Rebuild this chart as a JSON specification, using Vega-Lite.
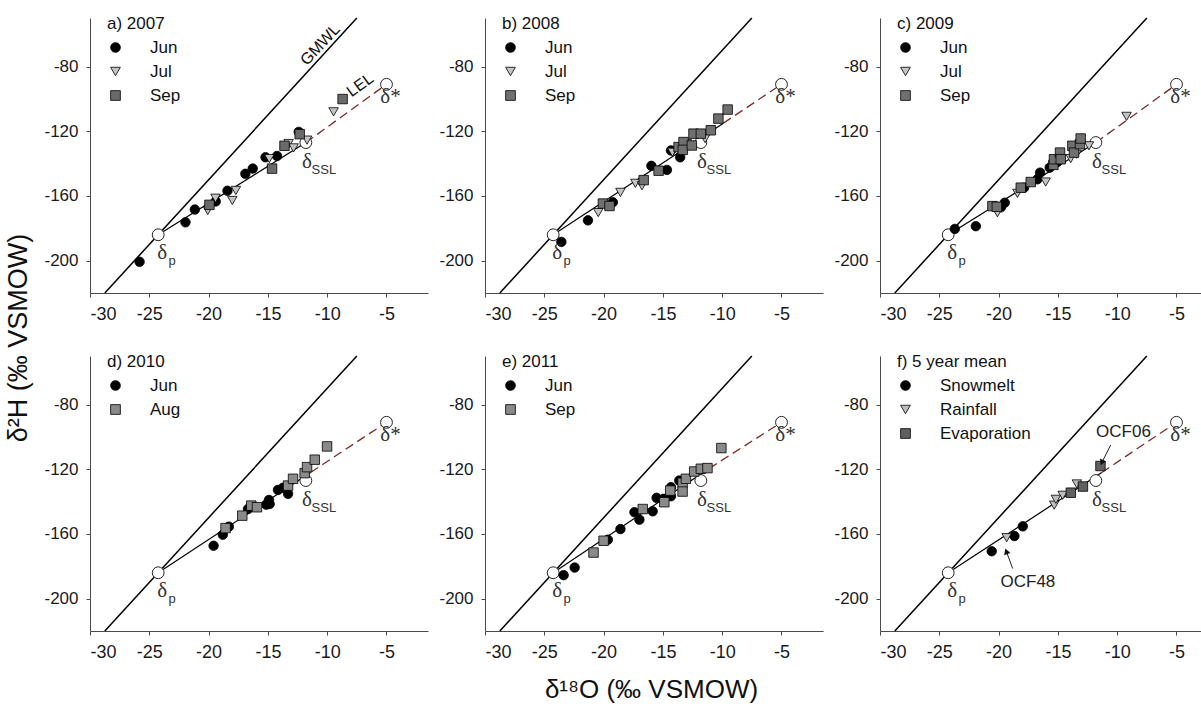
{
"$schema": "https://vega.github.io/schema/vega-lite/v6.json",
"padding": {"left": 4, "top": 15, "right": 0, "bottom": 5},
"background": "white",
"datasets": {
"gmwl": [{"x": -28.75, "y": -220}, {"x": -7.5, "y": -50}],
"ref": [{"name": "p", "x": -24.25, "y": -184}, {"name": "SSL", "x": -11.8, "y": -127}, {"name": "star", "x": -5, "y": -91}],
"lel": [
{"panel": "a", "seg": "solid", "x": -24.25, "y": -184}, {"panel": "a", "seg": "solid", "x": -11.8, "y": -127},
{"panel": "a", "seg": "dash", "x": -11.8, "y": -127}, {"panel": "a", "seg": "dash", "x": -5, "y": -91},
{"panel": "b", "seg": "solid", "x": -24.25, "y": -184}, {"panel": "b", "seg": "solid", "x": -9.9, "y": -115},
{"panel": "b", "seg": "dash", "x": -9.9, "y": -115}, {"panel": "b", "seg": "dash", "x": -5, "y": -91},
{"panel": "c", "seg": "solid", "x": -24.25, "y": -184}, {"panel": "c", "seg": "solid", "x": -11.8, "y": -127},
{"panel": "c", "seg": "dash", "x": -11.8, "y": -127}, {"panel": "c", "seg": "dash", "x": -5, "y": -91},
{"panel": "d", "seg": "solid", "x": -24.25, "y": -184}, {"panel": "d", "seg": "solid", "x": -11.4, "y": -122},
{"panel": "d", "seg": "dash", "x": -11.4, "y": -122}, {"panel": "d", "seg": "dash", "x": -5, "y": -91},
{"panel": "e", "seg": "solid", "x": -24.25, "y": -184}, {"panel": "e", "seg": "solid", "x": -11.1, "y": -119.5},
{"panel": "e", "seg": "dash", "x": -11.1, "y": -119.5}, {"panel": "e", "seg": "dash", "x": -5, "y": -91},
{"panel": "f", "seg": "solid", "x": -24.25, "y": -184}, {"panel": "f", "seg": "solid", "x": -11.3, "y": -122},
{"panel": "f", "seg": "dash", "x": -11.3, "y": -122}, {"panel": "f", "seg": "dash", "x": -5, "y": -91}
],
"notes": [
{"panel": "a", "t": "GMWL", "x": -10.58, "y": -66.5},
{"panel": "a", "t": "LEL", "x": -7.22, "y": -91.4},
{"panel": "f", "t": "OCF06", "x": -9.47, "y": -96.9},
{"panel": "f", "t": "OCF48", "x": -17.53, "y": -189.5}
],
"arrows": [
{"t": "OCF06", "x": -10.55, "y": -105, "x2": -11.26, "y2": -115.4},
{"t": "OCF48", "x": -18.81, "y": -181.4, "x2": -19.32, "y2": -171.3}
],
"pts": [
{"panel": "a", "group": "Jun", "x": -25.82, "y": -200.7},
{"panel": "a", "group": "Jun", "x": -21.95, "y": -176.3},
{"panel": "a", "group": "Jun", "x": -21.16, "y": -168.4},
{"panel": "a", "group": "Jun", "x": -19.4, "y": -163.4},
{"panel": "a", "group": "Jun", "x": -18.41, "y": -156.8},
{"panel": "a", "group": "Jun", "x": -16.9, "y": -146.3},
{"panel": "a", "group": "Jun", "x": -16.28, "y": -143.1},
{"panel": "a", "group": "Jun", "x": -15.2, "y": -136.1},
{"panel": "a", "group": "Jun", "x": -14.23, "y": -135.3},
{"panel": "a", "group": "Jun", "x": -12.4, "y": -120.4},
{"panel": "a", "group": "Jul", "x": -20.07, "y": -169},
{"panel": "a", "group": "Jul", "x": -19.42, "y": -161.4},
{"panel": "a", "group": "Jul", "x": -18.0, "y": -162.8},
{"panel": "a", "group": "Jul", "x": -17.7, "y": -156.6},
{"panel": "a", "group": "Jul", "x": -14.88, "y": -136.9},
{"panel": "a", "group": "Jul", "x": -13.25, "y": -127.6},
{"panel": "a", "group": "Jul", "x": -12.83, "y": -130.3},
{"panel": "a", "group": "Jul", "x": -11.7, "y": -125.5},
{"panel": "a", "group": "Jul", "x": -9.46, "y": -108},
{"panel": "a", "group": "Sep", "x": -19.93, "y": -165.5},
{"panel": "a", "group": "Sep", "x": -14.65, "y": -143.1},
{"panel": "a", "group": "Sep", "x": -13.6, "y": -129},
{"panel": "a", "group": "Sep", "x": -12.32, "y": -121.8},
{"panel": "a", "group": "Sep", "x": -8.7, "y": -100.1},
{"panel": "b", "group": "Jun", "x": -23.56, "y": -188.4},
{"panel": "b", "group": "Jun", "x": -21.32, "y": -175.1},
{"panel": "b", "group": "Jun", "x": -19.22, "y": -163.9},
{"panel": "b", "group": "Jun", "x": -15.97, "y": -141.4},
{"panel": "b", "group": "Jun", "x": -14.66, "y": -143.9},
{"panel": "b", "group": "Jun", "x": -14.32, "y": -131.9},
{"panel": "b", "group": "Jun", "x": -13.54, "y": -136.1},
{"panel": "b", "group": "Jul", "x": -20.45, "y": -170.3},
{"panel": "b", "group": "Jul", "x": -18.58, "y": -157.8},
{"panel": "b", "group": "Jul", "x": -17.32, "y": -152.2},
{"panel": "b", "group": "Jul", "x": -16.76, "y": -153.7},
{"panel": "b", "group": "Jul", "x": -14.2, "y": -133},
{"panel": "b", "group": "Jul", "x": -12.98, "y": -127.7},
{"panel": "b", "group": "Jul", "x": -11.44, "y": -124.6},
{"panel": "b", "group": "Sep", "x": -20.06, "y": -164.7},
{"panel": "b", "group": "Sep", "x": -19.5, "y": -166.2},
{"panel": "b", "group": "Sep", "x": -16.62, "y": -150.2},
{"panel": "b", "group": "Sep", "x": -15.36, "y": -144.4},
{"panel": "b", "group": "Sep", "x": -13.68, "y": -129.8},
{"panel": "b", "group": "Sep", "x": -13.26, "y": -126.7},
{"panel": "b", "group": "Sep", "x": -13.32, "y": -131.5},
{"panel": "b", "group": "Sep", "x": -12.56, "y": -128.8},
{"panel": "b", "group": "Sep", "x": -12.42, "y": -121.5},
{"panel": "b", "group": "Sep", "x": -11.8, "y": -121.5},
{"panel": "b", "group": "Sep", "x": -10.96, "y": -119.4},
{"panel": "b", "group": "Sep", "x": -10.32, "y": -112.2},
{"panel": "b", "group": "Sep", "x": -9.54, "y": -106.6},
{"panel": "c", "group": "Jun", "x": -23.69, "y": -180.4},
{"panel": "c", "group": "Jun", "x": -21.92, "y": -178.7},
{"panel": "c", "group": "Jun", "x": -19.48, "y": -164.2},
{"panel": "c", "group": "Jun", "x": -19.8, "y": -167},
{"panel": "c", "group": "Jun", "x": -17.85, "y": -154.9},
{"panel": "c", "group": "Jun", "x": -16.73, "y": -149.7},
{"panel": "c", "group": "Jun", "x": -16.5, "y": -145.6},
{"panel": "c", "group": "Jun", "x": -15.69, "y": -142.5},
{"panel": "c", "group": "Jun", "x": -15.04, "y": -139},
{"panel": "c", "group": "Jul", "x": -20.1, "y": -170.4},
{"panel": "c", "group": "Jul", "x": -18.41, "y": -158.4},
{"panel": "c", "group": "Jul", "x": -16.03, "y": -151.4},
{"panel": "c", "group": "Jul", "x": -13.92, "y": -136.9},
{"panel": "c", "group": "Jul", "x": -13.42, "y": -134.2},
{"panel": "c", "group": "Jul", "x": -12.38, "y": -129},
{"panel": "c", "group": "Jul", "x": -9.21, "y": -110.8},
{"panel": "c", "group": "Sep", "x": -20.52, "y": -166.3},
{"panel": "c", "group": "Sep", "x": -20.15, "y": -166.7},
{"panel": "c", "group": "Sep", "x": -18.13, "y": -154.9},
{"panel": "c", "group": "Sep", "x": -17.29, "y": -151.4},
{"panel": "c", "group": "Sep", "x": -15.38, "y": -140.8},
{"panel": "c", "group": "Sep", "x": -15.33, "y": -137.3},
{"panel": "c", "group": "Sep", "x": -14.82, "y": -133.2},
{"panel": "c", "group": "Sep", "x": -14.76, "y": -137.3},
{"panel": "c", "group": "Sep", "x": -13.78, "y": -129},
{"panel": "c", "group": "Sep", "x": -13.64, "y": -133.2},
{"panel": "c", "group": "Sep", "x": -13.14, "y": -128},
{"panel": "c", "group": "Sep", "x": -13.08, "y": -124.5},
{"panel": "d", "group": "Jun", "x": -19.58, "y": -167.3},
{"panel": "d", "group": "Jun", "x": -18.8, "y": -160.5},
{"panel": "d", "group": "Jun", "x": -18.29, "y": -155.5},
{"panel": "d", "group": "Jun", "x": -16.68, "y": -144.6},
{"panel": "d", "group": "Jun", "x": -16.4, "y": -143.1},
{"panel": "d", "group": "Jun", "x": -15.14, "y": -141.9},
{"panel": "d", "group": "Jun", "x": -14.85, "y": -141.5},
{"panel": "d", "group": "Jun", "x": -14.91, "y": -139},
{"panel": "d", "group": "Jun", "x": -14.15, "y": -132.8},
{"panel": "d", "group": "Jun", "x": -13.73, "y": -131.5},
{"panel": "d", "group": "Jun", "x": -13.3, "y": -135.2},
{"panel": "d", "group": "Aug", "x": -18.57, "y": -156.4},
{"panel": "d", "group": "Aug", "x": -17.16, "y": -148.7},
{"panel": "d", "group": "Aug", "x": -16.4, "y": -142.5},
{"panel": "d", "group": "Aug", "x": -15.92, "y": -143.5},
{"panel": "d", "group": "Aug", "x": -13.3, "y": -130.1},
{"panel": "d", "group": "Aug", "x": -12.88, "y": -125.9},
{"panel": "d", "group": "Aug", "x": -11.9, "y": -122.4},
{"panel": "d", "group": "Aug", "x": -11.7, "y": -118.7},
{"panel": "d", "group": "Aug", "x": -11.05, "y": -114.1},
{"panel": "d", "group": "Aug", "x": -10.01, "y": -105.9},
{"panel": "e", "group": "Jun", "x": -23.37, "y": -185.5},
{"panel": "e", "group": "Jun", "x": -22.44, "y": -180.8},
{"panel": "e", "group": "Jun", "x": -19.64, "y": -163.6},
{"panel": "e", "group": "Jun", "x": -18.58, "y": -157},
{"panel": "e", "group": "Jun", "x": -17.4, "y": -146.6},
{"panel": "e", "group": "Jun", "x": -16.98, "y": -151.2},
{"panel": "e", "group": "Jun", "x": -15.86, "y": -146},
{"panel": "e", "group": "Jun", "x": -15.53, "y": -137.7},
{"panel": "e", "group": "Jun", "x": -14.94, "y": -138.3},
{"panel": "e", "group": "Jun", "x": -14.32, "y": -136.7},
{"panel": "e", "group": "Jun", "x": -14.32, "y": -131.1},
{"panel": "e", "group": "Jun", "x": -13.62, "y": -127},
{"panel": "e", "group": "Sep", "x": -20.85, "y": -171.5},
{"panel": "e", "group": "Sep", "x": -20.0, "y": -164.2},
{"panel": "e", "group": "Sep", "x": -16.7, "y": -144.6},
{"panel": "e", "group": "Sep", "x": -14.88, "y": -140.4},
{"panel": "e", "group": "Sep", "x": -14.38, "y": -133.2},
{"panel": "e", "group": "Sep", "x": -13.34, "y": -128.4},
{"panel": "e", "group": "Sep", "x": -13.34, "y": -133.8},
{"panel": "e", "group": "Sep", "x": -13.06, "y": -125.9},
{"panel": "e", "group": "Sep", "x": -12.36, "y": -121.4},
{"panel": "e", "group": "Sep", "x": -11.8, "y": -119.7},
{"panel": "e", "group": "Sep", "x": -11.24, "y": -119.3},
{"panel": "e", "group": "Sep", "x": -10.07, "y": -106.9},
{"panel": "f", "group": "Snowmelt", "x": -20.58, "y": -170.7},
{"panel": "f", "group": "Snowmelt", "x": -18.67, "y": -161.3},
{"panel": "f", "group": "Snowmelt", "x": -17.96, "y": -155.3},
{"panel": "f", "group": "Rainfall", "x": -19.32, "y": -162.3},
{"panel": "f", "group": "Rainfall", "x": -15.31, "y": -142.2},
{"panel": "f", "group": "Rainfall", "x": -15.17, "y": -138.6},
{"panel": "f", "group": "Rainfall", "x": -14.6, "y": -136.1},
{"panel": "f", "group": "Rainfall", "x": -13.4, "y": -129.1},
{"panel": "f", "group": "Evaporation", "x": -13.91, "y": -134.5},
{"panel": "f", "group": "Evaporation", "x": -12.89, "y": -130.7},
{"panel": "f", "group": "Evaporation", "x": -11.41, "y": -118}
]
},
"title": {"text": "δ¹⁸O (‰ VSMOW)", "orient": "bottom", "anchor": "middle", "fontSize": 26, "offset": 16, "dx": 40},
"vconcat": [
{
"title": {"text": "δ²H (‰ VSMOW)", "orient": "left", "anchor": "middle", "fontSize": 27, "offset": 3, "dy": -8},
"columns": 3,
"spacing": {"row": 30, "column": 10},
"resolve": {"scale": {"shape": "independent", "fill": "independent", "stroke": "independent"}},
"concat": [
{
"width": 338, "height": 275,
"encoding": {
"x": {"field": "x", "type": "quantitative", "scale": {"domain": [-30, -1.5], "nice": false, "zero": false}, "axis": {"values": [-30, -25, -20, -15, -10, -5], "title": null, "labelExpr": "'' + datum.value"}},
"y": {"field": "y", "type": "quantitative", "scale": {"domain": [-220, -50], "nice": false, "zero": false}, "axis": {"values": [-200, -160, -120, -80], "title": null, "labelExpr": "'' + datum.value"}}
},
"layer": [
{"data": {"name": "gmwl"}, "mark": {"type": "line", "color": "black", "strokeWidth": 1.5}},
{"data": {"name": "lel"}, "transform": [{"filter": "datum.panel === 'a' && datum.seg === 'solid'"}], "mark": {"type": "line", "color": "black", "strokeWidth": 1.2}},
{"data": {"name": "lel"}, "transform": [{"filter": "datum.panel === 'a' && datum.seg === 'dash'"}], "mark": {"type": "line", "color": "#7b2b2b", "strokeWidth": 1.3, "strokeDash": [9, 5]}},
{"data": {"name": "ref"}, "mark": {"type": "point", "shape": "circle", "filled": true, "fill": "white", "stroke": "#222", "strokeWidth": 1, "size": 140, "opacity": 1}},
{"data": {"name": "pts"}, "transform": [{"filter": "datum.panel === 'a'"}], "mark": {"type": "point", "filled": true, "strokeWidth": 0.8, "size": 90, "opacity": 1},
 "encoding": {
  "shape": {"field": "group", "type": "nominal", "scale": {"domain": ["Jun", "Jul", "Sep"], "range": ["circle", "triangle-down", "square"]}, "legend": {"title": "a) 2007", "legendX": 17, "legendY": -2}},
  "fill": {"field": "group", "type": "nominal", "scale": {"domain": ["Jun", "Jul", "Sep"], "range": ["#000000", "#c4c4c4", "#6a6a6a"]}, "legend": {"title": "a) 2007", "legendX": 17, "legendY": -2}},
  "stroke": {"field": "group", "type": "nominal", "scale": {"domain": ["Jun", "Jul", "Sep"], "range": ["#000000", "#000000", "#000000"]}, "legend": {"title": "a) 2007", "legendX": 17, "legendY": -2}}
 }},
{"data": {"name": "ref"}, "transform": [{"filter": "datum.name === 'p'"}], "mark": {"type": "text", "text": "δ", "font": "Liberation Serif", "fontSize": 21, "color": "#333", "dx": 4, "dy": 18}},
{"data": {"name": "ref"}, "transform": [{"filter": "datum.name === 'p'"}], "mark": {"type": "text", "text": "p", "fontSize": 13, "color": "#333", "dx": 14, "dy": 26}},
{"data": {"name": "ref"}, "transform": [{"filter": "datum.name === 'SSL'"}], "mark": {"type": "text", "text": "δ", "font": "Liberation Serif", "fontSize": 21, "color": "#333", "dx": 1, "dy": 19}},
{"data": {"name": "ref"}, "transform": [{"filter": "datum.name === 'SSL'"}], "mark": {"type": "text", "text": "SSL", "fontSize": 13, "color": "#333", "dx": 18, "dy": 27}},
{"data": {"name": "ref"}, "transform": [{"filter": "datum.name === 'star'"}], "mark": {"type": "text", "text": "δ*", "font": "Liberation Serif", "fontSize": 21, "color": "#333", "dx": 4, "dy": 13}},
{"data": {"name": "notes"}, "transform": [{"filter": "datum.t === 'GMWL'"}], "mark": {"type": "text", "fontSize": 16, "color": "#111", "angle": 313}, "encoding": {"text": {"field": "t"}}},
{"data": {"name": "notes"}, "transform": [{"filter": "datum.t === 'LEL'"}], "mark": {"type": "text", "fontSize": 16, "color": "#111", "angle": 324}, "encoding": {"text": {"field": "t"}}}
]
},
{
"width": 338, "height": 275,
"encoding": {
"x": {"field": "x", "type": "quantitative", "scale": {"domain": [-30, -1.5], "nice": false, "zero": false}, "axis": {"values": [-30, -25, -20, -15, -10, -5], "title": null, "labelExpr": "'' + datum.value"}},
"y": {"field": "y", "type": "quantitative", "scale": {"domain": [-220, -50], "nice": false, "zero": false}, "axis": {"values": [-200, -160, -120, -80], "title": null, "labelExpr": "'' + datum.value"}}
},
"layer": [
{"data": {"name": "gmwl"}, "mark": {"type": "line", "color": "black", "strokeWidth": 1.5}},
{"data": {"name": "lel"}, "transform": [{"filter": "datum.panel === 'b' && datum.seg === 'solid'"}], "mark": {"type": "line", "color": "black", "strokeWidth": 1.2}},
{"data": {"name": "lel"}, "transform": [{"filter": "datum.panel === 'b' && datum.seg === 'dash'"}], "mark": {"type": "line", "color": "#7b2b2b", "strokeWidth": 1.3, "strokeDash": [9, 5]}},
{"data": {"name": "ref"}, "mark": {"type": "point", "shape": "circle", "filled": true, "fill": "white", "stroke": "#222", "strokeWidth": 1, "size": 140, "opacity": 1}},
{"data": {"name": "pts"}, "transform": [{"filter": "datum.panel === 'b'"}], "mark": {"type": "point", "filled": true, "strokeWidth": 0.8, "size": 90, "opacity": 1},
 "encoding": {
  "shape": {"field": "group", "type": "nominal", "scale": {"domain": ["Jun", "Jul", "Sep"], "range": ["circle", "triangle-down", "square"]}, "legend": {"title": "b) 2008", "legendX": 17, "legendY": -2}},
  "fill": {"field": "group", "type": "nominal", "scale": {"domain": ["Jun", "Jul", "Sep"], "range": ["#000000", "#c4c4c4", "#707070"]}, "legend": {"title": "b) 2008", "legendX": 17, "legendY": -2}},
  "stroke": {"field": "group", "type": "nominal", "scale": {"domain": ["Jun", "Jul", "Sep"], "range": ["#000000", "#000000", "#000000"]}, "legend": {"title": "b) 2008", "legendX": 17, "legendY": -2}}
 }},
{"data": {"name": "ref"}, "transform": [{"filter": "datum.name === 'p'"}], "mark": {"type": "text", "text": "δ", "font": "Liberation Serif", "fontSize": 21, "color": "#333", "dx": 4, "dy": 18}},
{"data": {"name": "ref"}, "transform": [{"filter": "datum.name === 'p'"}], "mark": {"type": "text", "text": "p", "fontSize": 13, "color": "#333", "dx": 14, "dy": 26}},
{"data": {"name": "ref"}, "transform": [{"filter": "datum.name === 'SSL'"}], "mark": {"type": "text", "text": "δ", "font": "Liberation Serif", "fontSize": 21, "color": "#333", "dx": 1, "dy": 19}},
{"data": {"name": "ref"}, "transform": [{"filter": "datum.name === 'SSL'"}], "mark": {"type": "text", "text": "SSL", "fontSize": 13, "color": "#333", "dx": 18, "dy": 27}},
{"data": {"name": "ref"}, "transform": [{"filter": "datum.name === 'star'"}], "mark": {"type": "text", "text": "δ*", "font": "Liberation Serif", "fontSize": 21, "color": "#333", "dx": 4, "dy": 13}}
]
},
{
"width": 338, "height": 275,
"encoding": {
"x": {"field": "x", "type": "quantitative", "scale": {"domain": [-30, -1.5], "nice": false, "zero": false}, "axis": {"values": [-30, -25, -20, -15, -10, -5], "title": null, "labelExpr": "'' + datum.value"}},
"y": {"field": "y", "type": "quantitative", "scale": {"domain": [-220, -50], "nice": false, "zero": false}, "axis": {"values": [-200, -160, -120, -80], "title": null, "labelExpr": "'' + datum.value"}}
},
"layer": [
{"data": {"name": "gmwl"}, "mark": {"type": "line", "color": "black", "strokeWidth": 1.5}},
{"data": {"name": "lel"}, "transform": [{"filter": "datum.panel === 'c' && datum.seg === 'solid'"}], "mark": {"type": "line", "color": "black", "strokeWidth": 1.2}},
{"data": {"name": "lel"}, "transform": [{"filter": "datum.panel === 'c' && datum.seg === 'dash'"}], "mark": {"type": "line", "color": "#7b2b2b", "strokeWidth": 1.3, "strokeDash": [9, 5]}},
{"data": {"name": "ref"}, "mark": {"type": "point", "shape": "circle", "filled": true, "fill": "white", "stroke": "#222", "strokeWidth": 1, "size": 140, "opacity": 1}},
{"data": {"name": "pts"}, "transform": [{"filter": "datum.panel === 'c'"}], "mark": {"type": "point", "filled": true, "strokeWidth": 0.8, "size": 90, "opacity": 1},
 "encoding": {
  "shape": {"field": "group", "type": "nominal", "scale": {"domain": ["Jun", "Jul", "Sep"], "range": ["circle", "triangle-down", "square"]}, "legend": {"title": "c) 2009", "legendX": 17, "legendY": -2}},
  "fill": {"field": "group", "type": "nominal", "scale": {"domain": ["Jun", "Jul", "Sep"], "range": ["#000000", "#c4c4c4", "#707070"]}, "legend": {"title": "c) 2009", "legendX": 17, "legendY": -2}},
  "stroke": {"field": "group", "type": "nominal", "scale": {"domain": ["Jun", "Jul", "Sep"], "range": ["#000000", "#000000", "#000000"]}, "legend": {"title": "c) 2009", "legendX": 17, "legendY": -2}}
 }},
{"data": {"name": "ref"}, "transform": [{"filter": "datum.name === 'p'"}], "mark": {"type": "text", "text": "δ", "font": "Liberation Serif", "fontSize": 21, "color": "#333", "dx": 4, "dy": 18}},
{"data": {"name": "ref"}, "transform": [{"filter": "datum.name === 'p'"}], "mark": {"type": "text", "text": "p", "fontSize": 13, "color": "#333", "dx": 14, "dy": 26}},
{"data": {"name": "ref"}, "transform": [{"filter": "datum.name === 'SSL'"}], "mark": {"type": "text", "text": "δ", "font": "Liberation Serif", "fontSize": 21, "color": "#333", "dx": 1, "dy": 19}},
{"data": {"name": "ref"}, "transform": [{"filter": "datum.name === 'SSL'"}], "mark": {"type": "text", "text": "SSL", "fontSize": 13, "color": "#333", "dx": 18, "dy": 27}},
{"data": {"name": "ref"}, "transform": [{"filter": "datum.name === 'star'"}], "mark": {"type": "text", "text": "δ*", "font": "Liberation Serif", "fontSize": 21, "color": "#333", "dx": 4, "dy": 13}}
]
},
{
"width": 338, "height": 275,
"encoding": {
"x": {"field": "x", "type": "quantitative", "scale": {"domain": [-30, -1.5], "nice": false, "zero": false}, "axis": {"values": [-30, -25, -20, -15, -10, -5], "title": null, "labelExpr": "'' + datum.value"}},
"y": {"field": "y", "type": "quantitative", "scale": {"domain": [-220, -50], "nice": false, "zero": false}, "axis": {"values": [-200, -160, -120, -80], "title": null, "labelExpr": "'' + datum.value"}}
},
"layer": [
{"data": {"name": "gmwl"}, "mark": {"type": "line", "color": "black", "strokeWidth": 1.5}},
{"data": {"name": "lel"}, "transform": [{"filter": "datum.panel === 'd' && datum.seg === 'solid'"}], "mark": {"type": "line", "color": "black", "strokeWidth": 1.2}},
{"data": {"name": "lel"}, "transform": [{"filter": "datum.panel === 'd' && datum.seg === 'dash'"}], "mark": {"type": "line", "color": "#7b2b2b", "strokeWidth": 1.3, "strokeDash": [9, 5]}},
{"data": {"name": "ref"}, "mark": {"type": "point", "shape": "circle", "filled": true, "fill": "white", "stroke": "#222", "strokeWidth": 1, "size": 140, "opacity": 1}},
{"data": {"name": "pts"}, "transform": [{"filter": "datum.panel === 'd'"}], "mark": {"type": "point", "filled": true, "strokeWidth": 0.8, "size": 90, "opacity": 1},
 "encoding": {
  "shape": {"field": "group", "type": "nominal", "scale": {"domain": ["Jun", "Aug"], "range": ["circle", "square"]}, "legend": {"title": "d) 2010", "legendX": 17, "legendY": -2}},
  "fill": {"field": "group", "type": "nominal", "scale": {"domain": ["Jun", "Aug"], "range": ["#000000", "#8a8a8a"]}, "legend": {"title": "d) 2010", "legendX": 17, "legendY": -2}},
  "stroke": {"field": "group", "type": "nominal", "scale": {"domain": ["Jun", "Aug"], "range": ["#000000", "#000000"]}, "legend": {"title": "d) 2010", "legendX": 17, "legendY": -2}}
 }},
{"data": {"name": "ref"}, "transform": [{"filter": "datum.name === 'p'"}], "mark": {"type": "text", "text": "δ", "font": "Liberation Serif", "fontSize": 21, "color": "#333", "dx": 4, "dy": 18}},
{"data": {"name": "ref"}, "transform": [{"filter": "datum.name === 'p'"}], "mark": {"type": "text", "text": "p", "fontSize": 13, "color": "#333", "dx": 14, "dy": 26}},
{"data": {"name": "ref"}, "transform": [{"filter": "datum.name === 'SSL'"}], "mark": {"type": "text", "text": "δ", "font": "Liberation Serif", "fontSize": 21, "color": "#333", "dx": 1, "dy": 19}},
{"data": {"name": "ref"}, "transform": [{"filter": "datum.name === 'SSL'"}], "mark": {"type": "text", "text": "SSL", "fontSize": 13, "color": "#333", "dx": 18, "dy": 27}},
{"data": {"name": "ref"}, "transform": [{"filter": "datum.name === 'star'"}], "mark": {"type": "text", "text": "δ*", "font": "Liberation Serif", "fontSize": 21, "color": "#333", "dx": 4, "dy": 13}}
]
},
{
"width": 338, "height": 275,
"encoding": {
"x": {"field": "x", "type": "quantitative", "scale": {"domain": [-30, -1.5], "nice": false, "zero": false}, "axis": {"values": [-30, -25, -20, -15, -10, -5], "title": null, "labelExpr": "'' + datum.value"}},
"y": {"field": "y", "type": "quantitative", "scale": {"domain": [-220, -50], "nice": false, "zero": false}, "axis": {"values": [-200, -160, -120, -80], "title": null, "labelExpr": "'' + datum.value"}}
},
"layer": [
{"data": {"name": "gmwl"}, "mark": {"type": "line", "color": "black", "strokeWidth": 1.5}},
{"data": {"name": "lel"}, "transform": [{"filter": "datum.panel === 'e' && datum.seg === 'solid'"}], "mark": {"type": "line", "color": "black", "strokeWidth": 1.2}},
{"data": {"name": "lel"}, "transform": [{"filter": "datum.panel === 'e' && datum.seg === 'dash'"}], "mark": {"type": "line", "color": "#7b2b2b", "strokeWidth": 1.3, "strokeDash": [9, 5]}},
{"data": {"name": "ref"}, "mark": {"type": "point", "shape": "circle", "filled": true, "fill": "white", "stroke": "#222", "strokeWidth": 1, "size": 140, "opacity": 1}},
{"data": {"name": "pts"}, "transform": [{"filter": "datum.panel === 'e'"}], "mark": {"type": "point", "filled": true, "strokeWidth": 0.8, "size": 90, "opacity": 1},
 "encoding": {
  "shape": {"field": "group", "type": "nominal", "scale": {"domain": ["Jun", "Sep"], "range": ["circle", "square"]}, "legend": {"title": "e) 2011", "legendX": 17, "legendY": -2}},
  "fill": {"field": "group", "type": "nominal", "scale": {"domain": ["Jun", "Sep"], "range": ["#000000", "#8a8a8a"]}, "legend": {"title": "e) 2011", "legendX": 17, "legendY": -2}},
  "stroke": {"field": "group", "type": "nominal", "scale": {"domain": ["Jun", "Sep"], "range": ["#000000", "#000000"]}, "legend": {"title": "e) 2011", "legendX": 17, "legendY": -2}}
 }},
{"data": {"name": "ref"}, "transform": [{"filter": "datum.name === 'p'"}], "mark": {"type": "text", "text": "δ", "font": "Liberation Serif", "fontSize": 21, "color": "#333", "dx": 4, "dy": 18}},
{"data": {"name": "ref"}, "transform": [{"filter": "datum.name === 'p'"}], "mark": {"type": "text", "text": "p", "fontSize": 13, "color": "#333", "dx": 14, "dy": 26}},
{"data": {"name": "ref"}, "transform": [{"filter": "datum.name === 'SSL'"}], "mark": {"type": "text", "text": "δ", "font": "Liberation Serif", "fontSize": 21, "color": "#333", "dx": 1, "dy": 19}},
{"data": {"name": "ref"}, "transform": [{"filter": "datum.name === 'SSL'"}], "mark": {"type": "text", "text": "SSL", "fontSize": 13, "color": "#333", "dx": 18, "dy": 27}},
{"data": {"name": "ref"}, "transform": [{"filter": "datum.name === 'star'"}], "mark": {"type": "text", "text": "δ*", "font": "Liberation Serif", "fontSize": 21, "color": "#333", "dx": 4, "dy": 13}}
]
},
{
"width": 338, "height": 275,
"encoding": {
"x": {"field": "x", "type": "quantitative", "scale": {"domain": [-30, -1.5], "nice": false, "zero": false}, "axis": {"values": [-30, -25, -20, -15, -10, -5], "title": null, "labelExpr": "'' + datum.value"}},
"y": {"field": "y", "type": "quantitative", "scale": {"domain": [-220, -50], "nice": false, "zero": false}, "axis": {"values": [-200, -160, -120, -80], "title": null, "labelExpr": "'' + datum.value"}}
},
"layer": [
{"data": {"name": "gmwl"}, "mark": {"type": "line", "color": "black", "strokeWidth": 1.5}},
{"data": {"name": "lel"}, "transform": [{"filter": "datum.panel === 'f' && datum.seg === 'solid'"}], "mark": {"type": "line", "color": "black", "strokeWidth": 1.2}},
{"data": {"name": "lel"}, "transform": [{"filter": "datum.panel === 'f' && datum.seg === 'dash'"}], "mark": {"type": "line", "color": "#7b2b2b", "strokeWidth": 1.3, "strokeDash": [9, 5]}},
{"data": {"name": "ref"}, "mark": {"type": "point", "shape": "circle", "filled": true, "fill": "white", "stroke": "#222", "strokeWidth": 1, "size": 140, "opacity": 1}},
{"data": {"name": "pts"}, "transform": [{"filter": "datum.panel === 'f'"}], "mark": {"type": "point", "filled": true, "strokeWidth": 0.8, "size": 90, "opacity": 1},
 "encoding": {
  "shape": {"field": "group", "type": "nominal", "scale": {"domain": ["Snowmelt", "Rainfall", "Evaporation"], "range": ["circle", "triangle-down", "square"]}, "legend": {"title": "f) 5 year mean", "legendX": 17, "legendY": -2}},
  "fill": {"field": "group", "type": "nominal", "scale": {"domain": ["Snowmelt", "Rainfall", "Evaporation"], "range": ["#000000", "#bdbdbd", "#606060"]}, "legend": {"title": "f) 5 year mean", "legendX": 17, "legendY": -2}},
  "stroke": {"field": "group", "type": "nominal", "scale": {"domain": ["Snowmelt", "Rainfall", "Evaporation"], "range": ["#000000", "#000000", "#000000"]}, "legend": {"title": "f) 5 year mean", "legendX": 17, "legendY": -2}}
 }},
{"data": {"name": "ref"}, "transform": [{"filter": "datum.name === 'p'"}], "mark": {"type": "text", "text": "δ", "font": "Liberation Serif", "fontSize": 21, "color": "#333", "dx": 4, "dy": 18}},
{"data": {"name": "ref"}, "transform": [{"filter": "datum.name === 'p'"}], "mark": {"type": "text", "text": "p", "fontSize": 13, "color": "#333", "dx": 14, "dy": 26}},
{"data": {"name": "ref"}, "transform": [{"filter": "datum.name === 'SSL'"}], "mark": {"type": "text", "text": "δ", "font": "Liberation Serif", "fontSize": 21, "color": "#333", "dx": 1, "dy": 19}},
{"data": {"name": "ref"}, "transform": [{"filter": "datum.name === 'SSL'"}], "mark": {"type": "text", "text": "SSL", "fontSize": 13, "color": "#333", "dx": 18, "dy": 27}},
{"data": {"name": "ref"}, "transform": [{"filter": "datum.name === 'star'"}], "mark": {"type": "text", "text": "δ*", "font": "Liberation Serif", "fontSize": 21, "color": "#333", "dx": 4, "dy": 13}},
{"data": {"name": "notes"}, "transform": [{"filter": "datum.panel === 'f'"}], "mark": {"type": "text", "fontSize": 17, "color": "#222"}, "encoding": {"text": {"field": "t"}}},
{"data": {"name": "arrows"}, "mark": {"type": "rule", "color": "#222", "strokeWidth": 1}, "encoding": {"x2": {"field": "x2"}, "y2": {"field": "y2"}}},
{"data": {"name": "arrows"}, "transform": [{"filter": "datum.t === 'OCF06'"}], "mark": {"type": "point", "shape": "triangle", "filled": true, "color": "#111", "size": 45, "angle": 206, "opacity": 1}, "encoding": {"x": {"field": "x2", "type": "quantitative"}, "y": {"field": "y2", "type": "quantitative"}}},
{"data": {"name": "arrows"}, "transform": [{"filter": "datum.t === 'OCF48'"}], "mark": {"type": "point", "shape": "triangle", "filled": true, "color": "#111", "size": 45, "angle": 340, "opacity": 1}, "encoding": {"x": {"field": "x2", "type": "quantitative"}, "y": {"field": "y2", "type": "quantitative"}}}
]
}
]
}
],
"config": {
"view": {"stroke": null},
"font": "Liberation Sans",
"axis": {"grid": false, "domainColor": "#4a4a4a", "domainWidth": 1, "tickColor": "#4a4a4a", "tickSize": 4, "labelFont": "Liberation Sans", "labelFontSize": 17, "labelColor": "#1a1a1a", "labelPadding": 8},
"axisX": {"labelFontSize": 18},
"legend": {"orient": "none", "titleFont": "Liberation Sans", "titleFontSize": 17, "titleFontWeight": "normal", "titleColor": "#111", "labelFont": "Liberation Sans", "labelFontSize": 17, "labelColor": "#111", "symbolSize": 95, "symbolStrokeWidth": 0.8, "labelOffset": 26, "rowPadding": 6, "titlePadding": 6, "padding": 0},
"title": {"font": "Liberation Sans", "fontWeight": "normal", "color": "#111"}
}
}
